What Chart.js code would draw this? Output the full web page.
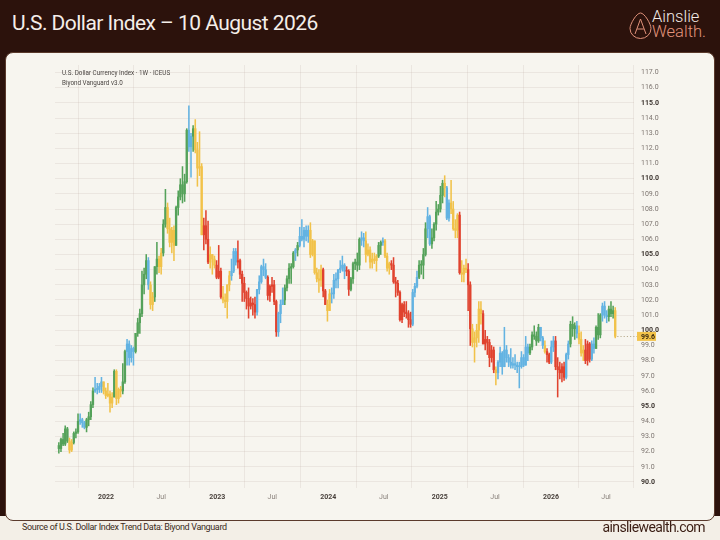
<!DOCTYPE html>
<html>
<head>
<meta charset="utf-8">
<script src="https://cdn.jsdelivr.net/npm/chart.js@4.4.1/dist/chart.umd.min.js"></script>
<style>
  html, body { margin: 0; padding: 0; }
  body {
    width: 720px; height: 540px; overflow: hidden; position: relative;
    background: #2c120c; font-family: Roboto, "Liberation Sans", sans-serif;
  }
  #title {
    position: absolute; left: 12px; top: 11px;
    color: #f4eee9; font-size: 21px; font-weight: 400; letter-spacing: -0.55px;
  }
  #logo-icon { position: absolute; left: 629px; top: 12px; }
  #logo-text {
    position: absolute; left: 652px; top: 10px;
    font-size: 16.5px; font-weight: 300; line-height: 14.5px;
  }
  #logo-text .a { color: #f3ebe6; }
  #logo-text .w { color: #e3947c; }
  #footer {
    position: absolute; left: 0; top: 516px; width: 720px; height: 24px;
    background: #f3efe7;
  }
  #card {
    position: absolute; left: 5px; top: 52px; width: 710px; height: 469px;
    box-sizing: border-box; background: #f7f5ef;
    border: 1.5px solid #5a3a2c; border-radius: 8px;
  }
  #chart { position: absolute; left: 5px; top: 53px; }
  .meta { position: absolute; left: 62px; font-size: 6.3px; color: #4a4542; }
  #source {
    position: absolute; left: 22px; top: 522px;
    font-size: 9px; letter-spacing: -0.35px; color: #3b2b22;
  }
  #site {
    position: absolute; right: 15px; top: 519px;
    font-size: 14px; letter-spacing: -0.6px; color: #3a1d13;
  }
</style>
</head>
<body>
<div id="title">U.S. Dollar Index – 10 August 2026</div>
<svg id="logo-icon" width="23" height="27" viewBox="0 0 23 27">
  <path d="M11.5 1 C15.5 1 22 12 22 16.5 A10.5 10 0 0 1 1 16.5 C1 12 7.5 1 11.5 1 Z"
        fill="none" stroke="#e0917a" stroke-width="1"/>
  <path d="M6 22 L11.5 7 L17 22 M8.2 17 L14.8 17" fill="none" stroke="#e0917a" stroke-width="1"/>
</svg>
<div id="logo-text"><span class="a">Ainslie</span><br><span class="w">Wealth.</span></div>
<div id="footer"></div>
<div id="card"></div>
<canvas id="chart" width="710" height="468"></canvas>
<div class="meta" style="top:69px">U.S. Dollar Currency Index · 1W · ICEUS</div>
<div class="meta" style="top:79px">Biyond Vanguard v3.0</div>
<div id="source">Source of U.S. Dollar Index Trend Data: Biyond Vanguard</div>
<div id="site">ainsliewealth.com</div>

<script>
// weekly candles: [high, low, close, trend]; open is the previous close
const firstOpen = 92.4

const weeks2021 = [
  [92.6, 91.9, 92.2, 'g'], [92.9, 92.0, 92.8, 'g'], [93.2, 92.4, 92.5, 'g'], [93.7, 92.4, 93.5, 'g'],
  [93.6, 92.6, 92.7, 'g'], [92.9, 91.9, 92.1, 'y'], [92.8, 92.0, 92.6, 'y'], [93.3, 92.5, 93.2, 'g'],
  [93.5, 92.9, 93.3, 'g'], [94.5, 93.2, 94.0, 'g'], [94.5, 93.8, 94.1, 'b'], [94.2, 93.6, 93.9, 'b'],
  [94.0, 93.5, 93.6, 'b'], [94.2, 93.3, 94.1, 'g'], [94.6, 93.7, 94.3, 'g'], [95.3, 94.1, 95.1, 'g'],
  [96.2, 94.9, 96.0, 'g'], [96.9, 95.9, 96.1, 'b'], [96.5, 95.8, 96.1, 'b'], [96.5, 95.9, 96.3, 'b'],
  [96.9, 95.9, 96.6, 'b'], [96.6, 95.8, 96.0, 'y'], [96.2, 95.5, 95.7, 'y']
]

const weeks2022 = [
  [96.5, 95.6, 95.8, 'y'], [96.0, 94.6, 95.2, 'y'], [95.9, 94.9, 95.6, 'y'], [97.4, 95.6, 97.3, 'g'],
  [97.4, 95.1, 95.5, 'y'], [96.2, 95.2, 96.1, 'y'], [96.3, 95.6, 96.0, 'y'], [97.8, 95.8, 96.6, 'g'],
  [98.7, 96.5, 98.6, 'g'], [99.4, 97.7, 99.1, 'b'], [99.3, 97.7, 98.2, 'b'], [99.0, 97.9, 98.8, 'b'],
  [98.9, 97.7, 98.6, 'b'], [99.8, 98.5, 99.8, 'g'], [100.8, 99.6, 100.5, 'g'], [101.4, 99.8, 101.1, 'g'],
  [103.9, 100.9, 103.0, 'g'], [104.1, 102.4, 103.7, 'g'], [105.0, 103.4, 104.6, 'g'], [104.8, 102.7, 103.0, 'b'],
  [103.2, 101.4, 101.7, 'y'], [102.5, 101.3, 102.2, 'y'], [104.2, 101.9, 104.2, 'g'], [105.8, 103.7, 104.7, 'g'],
  [104.9, 103.8, 104.2, 'y'], [105.4, 103.7, 105.1, 'y'], [107.3, 104.9, 107.0, 'g'], [109.3, 106.8, 108.1, 'g'],
  [108.4, 106.4, 106.7, 'y'], [107.4, 105.5, 105.8, 'y'], [106.8, 105.1, 106.6, 'y'], [106.9, 104.6, 105.6, 'y'],
  [108.2, 105.6, 108.1, 'g'], [109.2, 107.6, 108.8, 'g'], [110.0, 108.6, 109.6, 'g'], [110.8, 108.4, 109.0, 'g'],
  [110.3, 108.5, 109.8, 'g'], [113.3, 109.7, 113.2, 'g'], [114.8, 111.8, 112.1, 'b'], [113.0, 110.1, 112.8, 'b'],
  [113.5, 111.8, 113.3, 'g'], [113.9, 111.7, 111.9, 'y'], [112.4, 109.5, 110.7, 'y'], [113.1, 110.2, 110.8, 'y'],
  [111.0, 106.3, 106.3, 'y'], [107.4, 105.3, 106.9, 'r'], [107.9, 105.7, 106.0, 'r'], [107.2, 104.4, 104.5, 'r'],
  [105.5, 104.1, 105.0, 'y'], [105.0, 103.7, 104.7, 'y'], [104.9, 104.1, 104.3, 'y'], [104.6, 103.4, 103.5, 'r']
]

const weeks2023 = [
  [105.6, 103.4, 103.9, 'r'], [104.1, 102.1, 102.2, 'r'], [102.9, 101.8, 102.0, 'y'], [102.4, 101.5, 101.9, 'y'],
  [103.0, 100.8, 103.0, 'y'], [103.9, 102.6, 103.6, 'y'], [104.7, 103.3, 103.9, 'b'], [105.4, 103.8, 105.2, 'b'],
  [105.4, 104.3, 104.5, 'b'], [105.9, 104.1, 104.6, 'r'], [104.7, 103.4, 103.7, 'r'], [103.9, 101.9, 103.1, 'r'],
  [103.5, 101.9, 102.5, 'r'], [102.6, 101.4, 102.1, 'r'], [102.8, 100.8, 101.6, 'r'], [102.2, 101.4, 101.8, 'r'],
  [102.1, 101.0, 101.7, 'r'], [102.2, 100.8, 101.2, 'r'], [102.7, 101.0, 102.7, 'b'], [103.6, 102.4, 103.2, 'b'],
  [104.3, 103.1, 104.2, 'b'], [104.7, 103.6, 104.0, 'b'], [104.4, 103.4, 103.5, 'b'], [103.6, 102.0, 102.3, 'r'],
  [103.0, 101.9, 102.9, 'r'], [103.5, 102.5, 103.0, 'r'], [103.3, 101.7, 101.9, 'r'], [102.0, 99.6, 99.9, 'r'],
  [101.2, 99.6, 101.1, 'b'], [102.0, 100.5, 101.7, 'b'], [102.8, 101.7, 102.0, 'b'], [103.0, 101.7, 102.8, 'g'],
  [103.6, 102.6, 103.4, 'g'], [104.4, 103.1, 104.1, 'g'], [104.4, 103.1, 104.2, 'g'], [105.2, 104.1, 105.1, 'g'],
  [105.4, 104.6, 105.3, 'b'], [105.8, 104.9, 105.6, 'g'], [106.8, 105.5, 106.2, 'b'], [107.3, 105.9, 106.0, 'b'],
  [106.8, 105.5, 106.6, 'b'], [106.9, 105.9, 106.2, 'b'], [106.9, 105.8, 106.6, 'b'], [107.1, 104.8, 105.0, 'y'],
  [106.0, 104.9, 105.9, 'y'], [105.9, 103.7, 103.8, 'y'], [104.1, 103.2, 103.4, 'y'], [104.0, 102.5, 103.3, 'y'],
  [104.3, 102.9, 104.0, 'y'], [104.1, 102.2, 102.6, 'r'], [102.7, 101.7, 101.7, 'r'], [102.0, 100.6, 101.3, 'y']
]

const weeks2024 = [
  [102.7, 101.3, 102.4, 'y'], [102.8, 101.8, 102.4, 'b'], [103.7, 102.1, 103.3, 'b'], [103.8, 102.8, 103.4, 'b'],
  [104.0, 102.8, 104.0, 'b'], [104.6, 103.8, 104.1, 'b'], [104.9, 103.9, 104.3, 'b'], [104.4, 103.4, 103.9, 'b'],
  [104.2, 103.6, 103.9, 'r'], [104.0, 102.3, 102.7, 'r'], [103.5, 102.6, 103.4, 'g'], [104.5, 103.1, 104.4, 'g'],
  [104.7, 104.0, 104.5, 'g'], [105.1, 103.9, 104.3, 'g'], [106.1, 104.0, 106.0, 'g'], [106.5, 105.6, 106.1, 'b'],
  [106.4, 105.5, 105.9, 'b'], [106.5, 104.5, 105.0, 'y'], [105.7, 104.9, 105.3, 'y'], [105.5, 104.1, 104.5, 'y'],
  [105.1, 104.1, 104.7, 'y'], [105.1, 104.4, 104.6, 'y'], [105.0, 103.9, 104.9, 'y'], [105.8, 104.8, 105.6, 'g'],
  [105.9, 105.0, 105.8, 'g'], [106.1, 105.6, 105.9, 'b'], [106.0, 104.8, 104.9, 'y'], [105.1, 103.9, 104.1, 'y'],
  [104.5, 103.7, 104.4, 'y'], [104.6, 104.0, 104.3, 'r'], [104.8, 103.1, 103.2, 'r'], [103.5, 102.2, 103.1, 'r'],
  [103.3, 102.3, 102.5, 'r'], [102.6, 100.6, 100.7, 'r'], [101.8, 100.5, 101.7, 'r'], [101.9, 100.9, 101.2, 'r'],
  [101.9, 100.8, 101.1, 'r'], [101.3, 100.2, 100.7, 'r'], [101.2, 100.2, 100.4, 'r'], [102.7, 100.3, 102.5, 'b'],
  [103.1, 102.2, 102.9, 'b'], [103.9, 102.8, 103.5, 'b'], [104.6, 103.4, 104.3, 'g'], [104.6, 103.7, 104.3, 'g'],
  [105.4, 103.4, 105.0, 'g'], [107.1, 104.9, 106.7, 'g'], [108.1, 106.1, 107.5, 'b'], [107.6, 105.6, 105.7, 'b'],
  [106.7, 105.4, 106.1, 'g'], [107.1, 105.9, 107.0, 'g'], [108.5, 106.6, 107.8, 'g'], [108.3, 107.6, 108.0, 'g']
]

const weeks2025 = [
  [109.5, 107.8, 108.9, 'g'], [109.9, 108.4, 109.7, 'g'], [110.2, 108.8, 109.4, 'y'], [109.5, 107.3, 107.4, 'b'],
  [108.6, 107.2, 108.4, 'b'], [109.9, 107.7, 108.0, 'y'], [108.5, 106.6, 106.7, 'y'], [107.3, 106.1, 106.6, 'y'],
  [107.7, 106.1, 107.6, 'y'], [107.8, 103.7, 103.8, 'r'], [104.6, 103.2, 103.7, 'y'], [104.3, 103.2, 104.1, 'y'],
  [104.7, 103.8, 104.0, 'y'], [104.4, 101.3, 103.0, 'r'], [103.2, 99.0, 100.1, 'r'], [100.4, 98.9, 99.2, 'y'],
  [99.9, 97.9, 99.5, 'y'], [100.4, 98.9, 100.0, 'y'], [101.9, 99.2, 101.4, 'y'], [101.9, 100.4, 101.1, 'y'],
  [101.3, 99.1, 99.1, 'r'], [100.0, 98.7, 99.4, 'r'], [99.6, 98.4, 99.2, 'r'], [99.4, 97.6, 98.2, 'r'],
  [99.0, 97.9, 98.7, 'r'], [98.9, 97.2, 97.4, 'r'], [97.6, 96.4, 97.2, 'y'], [98.0, 96.8, 97.9, 'b'],
  [98.9, 97.6, 98.5, 'b'], [98.6, 97.1, 97.6, 'b'], [100.2, 97.6, 98.7, 'b'], [99.0, 97.9, 98.2, 'b'],
  [98.4, 97.6, 97.9, 'b'], [98.8, 97.5, 97.7, 'b'], [98.2, 97.5, 97.8, 'b'], [98.4, 97.4, 97.7, 'b'],
  [97.9, 97.2, 97.6, 'b'], [97.9, 96.2, 97.6, 'b'], [98.6, 97.5, 98.2, 'b'], [98.4, 97.6, 97.7, 'b'],
  [99.6, 97.7, 98.9, 'b'], [99.1, 98.0, 98.5, 'b'], [99.1, 98.4, 98.9, 'g'], [99.9, 98.7, 99.7, 'g'],
  [100.3, 99.4, 99.6, 'g'], [99.9, 99.0, 99.3, 'g'], [100.4, 99.2, 100.2, 'g'], [100.2, 99.3, 99.5, 'b'],
  [99.6, 98.8, 99.0, 'b'], [99.3, 98.5, 98.6, 'y'], [98.8, 97.9, 98.4, 'r'], [98.5, 97.8, 97.9, 'r']
]

const weeks2026 = [
  [99.3, 97.8, 98.9, 'b'], [99.6, 98.6, 99.3, 'b'], [99.6, 97.4, 97.6, 'r'], [98.2, 95.6, 97.4, 'r'],
  [97.9, 96.8, 97.2, 'r'], [97.8, 96.6, 97.6, 'r'], [97.9, 96.7, 96.9, 'r'], [98.5, 96.8, 98.4, 'b'],
  [99.3, 98.1, 99.1, 'b'], [100.6, 98.9, 100.4, 'g'], [100.9, 99.6, 100.1, 'g'], [100.5, 99.4, 100.3, 'g'],
  [100.6, 99.5, 99.8, 'b'], [100.3, 99.1, 99.4, 'y'], [99.9, 98.3, 98.5, 'y'], [99.0, 98.0, 98.7, 'y'],
  [99.4, 97.8, 98.0, 'r'], [99.3, 97.7, 99.1, 'r'], [99.2, 97.9, 98.1, 'r'], [99.3, 98.0, 99.1, 'b'],
  [99.5, 98.5, 98.8, 'b'], [100.3, 98.8, 100.2, 'g'], [101.1, 99.4, 99.7, 'g'], [101.1, 99.5, 101.0, 'g'],
  [101.8, 100.6, 101.6, 'b'], [101.9, 100.8, 101.0, 'b'], [101.3, 100.5, 100.9, 'b'], [101.6, 100.6, 101.4, 'g'],
  [101.9, 100.9, 101.1, 'g'], [101.6, 100.8, 101.3, 'g'], [101.5, 99.5, 99.6, 'y']
]

// x ticks sit at week positions (week 0 = end of July 2021)
const timeTicks = [22.1, 48.0, 74.3, 100.1, 126.4, 152.4, 178.7, 204.6, 230.9, 256.7]
const timeLabels = ['2022', 'Jul', '2023', 'Jul', '2024', 'Jul', '2025', 'Jul', '2026', 'Jul']

const priceTicks = [90, 91, 92, 93, 94, 95, 96, 97, 98, 99, 100, 101, 102, 103, 104,
    105, 106, 107, 108, 109, 110, 111, 112, 113, 114, 115, 116, 117]

const trendColors = {
    g: '#55a25a',
    b: '#63b3e2',
    y: '#f1c24a',
    r: '#e0432f'
}

const rows = [].concat(weeks2021, weeks2022, weeks2023, weeks2024, weeks2025, weeks2026)

const wicks = rows.map((r, i) => ({ x: i, y: [r[1], r[0]] }))
const bodies = rows.map((r, i) => ({ x: i, y: [i ? rows[i - 1][2] : firstOpen, r[2]] }))

const colorAt = ctx => trendColors[(rows[ctx.dataIndex] || rows[0])[3]]

const isMajor = ctx => !!ctx.tick && ctx.tick.value % 5 === 0
const isYear = ctx => ctx.index !== undefined && timeLabels[ctx.index] !== 'Jul'

// dotted last-price line and the price tag on the axis
const lastPricePlugin = {
    id: 'lastPrice',
    afterDatasetsDraw(chart) {
        const { ctx, chartArea, scales } = chart
        const last = rows.length - 1
        const y = Math.round(scales.y.getPixelForValue(rows[last][2])) + 0.5
        const x0 = scales.x.getPixelForValue(last) + 2
        ctx.save()
        ctx.setLineDash([1.2, 2])
        ctx.strokeStyle = '#b9ad90'
        ctx.lineWidth = 1
        ctx.beginPath()
        ctx.moveTo(x0, y)
        ctx.lineTo(chartArea.right + 3, y)
        ctx.stroke()
        ctx.restore()
    },
    afterDraw(chart) {
        const { ctx, chartArea, scales } = chart
        const last = rows.length - 1
        const price = rows[last][2]
        const y = scales.y.getPixelForValue(price)
        ctx.save()
        ctx.fillStyle = '#f3c34a'
        ctx.fillRect(chartArea.right + 3, y - 4.5, 19, 9)
        ctx.fillStyle = '#3a2a10'
        ctx.font = 'bold 7px Roboto, sans-serif'
        ctx.textBaseline = 'middle'
        ctx.fillText(price.toFixed(1), chartArea.right + 7, y + 0.5)
        ctx.restore()
    }
}

new Chart(document.getElementById('chart'), {
    type: 'bar',
    data: {
        datasets: [
            {
                data: wicks,
                grouped: false,
                barThickness: 0.9,
                backgroundColor: colorAt,
                borderWidth: 0
            },
            {
                data: bodies,
                grouped: false,
                barThickness: 1.7,
                minBarLength: 1,
                backgroundColor: colorAt,
                borderWidth: 0
            }
        ]
    },
    options: {
        responsive: false,
        animation: false,
        layout: { padding: { left: 50, top: 12, right: 4, bottom: 5 } },
        plugins: {
            legend: { display: false },
            tooltip: { enabled: false }
        },
        scales: {
            x: {
                type: 'linear',
                min: -1.8,
                max: 269.8,
                offset: false,
                border: { display: false },
                grid: { color: 'rgba(120, 90, 80, 0.09)', drawTicks: false },
                afterBuildTicks: s => { s.ticks = timeTicks.map(v => ({ value: v })) },
                afterFit: s => { s.height = 28 },
                ticks: {
                    autoSkip: false,
                    maxRotation: 0,
                    padding: 5,
                    callback: (v, i) => timeLabels[i],
                    color: ctx => isYear(ctx) ? '#4a423d' : '#8a827c',
                    font: ctx => ({
                        family: 'Roboto',
                        size: 7,
                        weight: isYear(ctx) ? 'bold' : 'normal'
                    })
                }
            },
            y: {
                position: 'right',
                min: 89.6,
                max: 117.5,
                border: { display: false },
                grid: { color: 'rgba(120, 90, 80, 0.09)', drawTicks: false },
                afterBuildTicks: s => { s.ticks = priceTicks.map(v => ({ value: v })) },
                afterFit: s => { s.width = 77 },
                ticks: {
                    padding: 7,
                    callback: v => v.toFixed(1),
                    color: ctx => isMajor(ctx) ? '#3d3530' : '#7d7570',
                    font: ctx => ({
                        family: 'Roboto',
                        size: 7,
                        weight: isMajor(ctx) ? 'bold' : 'normal'
                    })
                }
            }
        }
    },
    plugins: [lastPricePlugin]
})
</script>
</body>
</html>
